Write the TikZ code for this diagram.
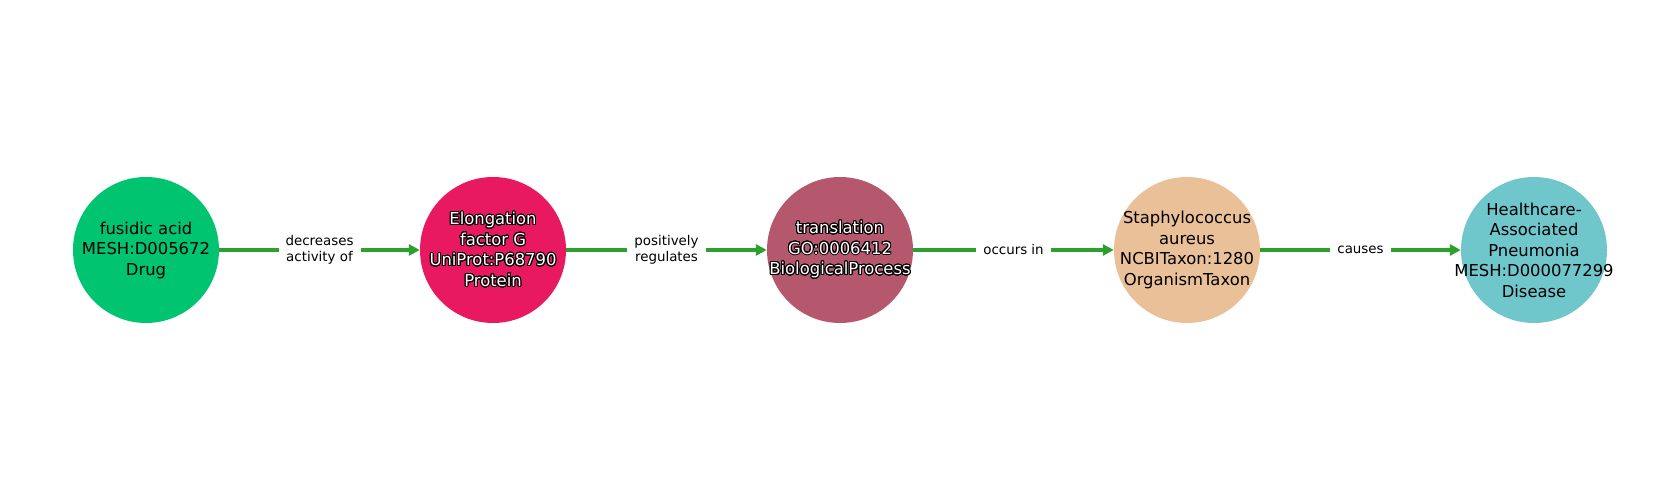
\documentclass[tikz,border=0pt]{standalone}
\usepackage{fontspec}
\setmainfont{DejaVu Sans}
\usepackage[copies]{contour}
\contourlength{1.0pt}
\contournumber{24}
\usetikzlibrary{arrows.meta}
\definecolor{cDrug}{RGB}{0,196,112}
\definecolor{cProt}{RGB}{232,25,97}
\definecolor{cBio}{RGB}{181,88,110}
\definecolor{cOrg}{RGB}{233,192,151}
\definecolor{cDis}{RGB}{111,198,203}
\definecolor{cEdge}{RGB}{44,160,44}
\newcommand\halo[1]{\contour{black}{#1}}
\tikzset{
  ent/.style={circle, minimum size=146pt, inner sep=0pt, draw=none},
  etext/.style={align=center, inner sep=0pt, font=\fontsize{16.4}{20.5}\selectfont},
  wtext/.style={etext, text=white},
  edge/.style={draw=cEdge, line width=3.6pt, -{Triangle[length=11pt,width=11pt]}},
  elabel/.style={fill=white, align=center, inner xsep=7pt, inner ysep=2pt, font=\fontsize{13.4}{15.8}\selectfont}
}
\begin{document}
\begin{tikzpicture}[x=1pt,y=1pt]
\useasboundingbox (0,0) rectangle (1680,500);
\node[ent, fill=cDrug] (n1) at (146,250) {};
\node[ent, fill=cProt] (n2) at (493,250) {};
\node[ent, fill=cBio]  (n3) at (840,250) {};
\node[ent, fill=cOrg]  (n4) at (1187,250) {};
\node[ent, fill=cDis]  (n5) at (1534,250) {};
\node[etext] (t1) at (n1) {fusidic acid\\MESH:D005672\\Drug};
\node[wtext] (t2) at (n2) {\halo{Elongation}\\\halo{factor G}\\\halo{UniProt:P68790}\\\halo{Protein}};
\node[wtext] (t3) at (n3) {\halo{translation}\\\halo{GO:0006412}\\\halo{BiologicalProcess}};
\node[etext] (t4) at (n4) {Staphylococcus\\aureus\\NCBITaxon:1280\\OrganismTaxon};
\node[etext] (t5) at (n5) {Healthcare-\\Associated\\Pneumonia\\MESH:D000077299\\Disease};
\draw[edge] (n1) -- node[elabel] (l1) {decreases\\activity of} (n2);
\draw[edge] (n2) -- node[elabel] (l2) {positively\\regulates} (n3);
\draw[edge] (n3) -- node[elabel] (l3) {occurs in} (n4);
\draw[edge] (n4) -- node[elabel] (l4) {causes} (n5);
\end{tikzpicture}
\end{document}
